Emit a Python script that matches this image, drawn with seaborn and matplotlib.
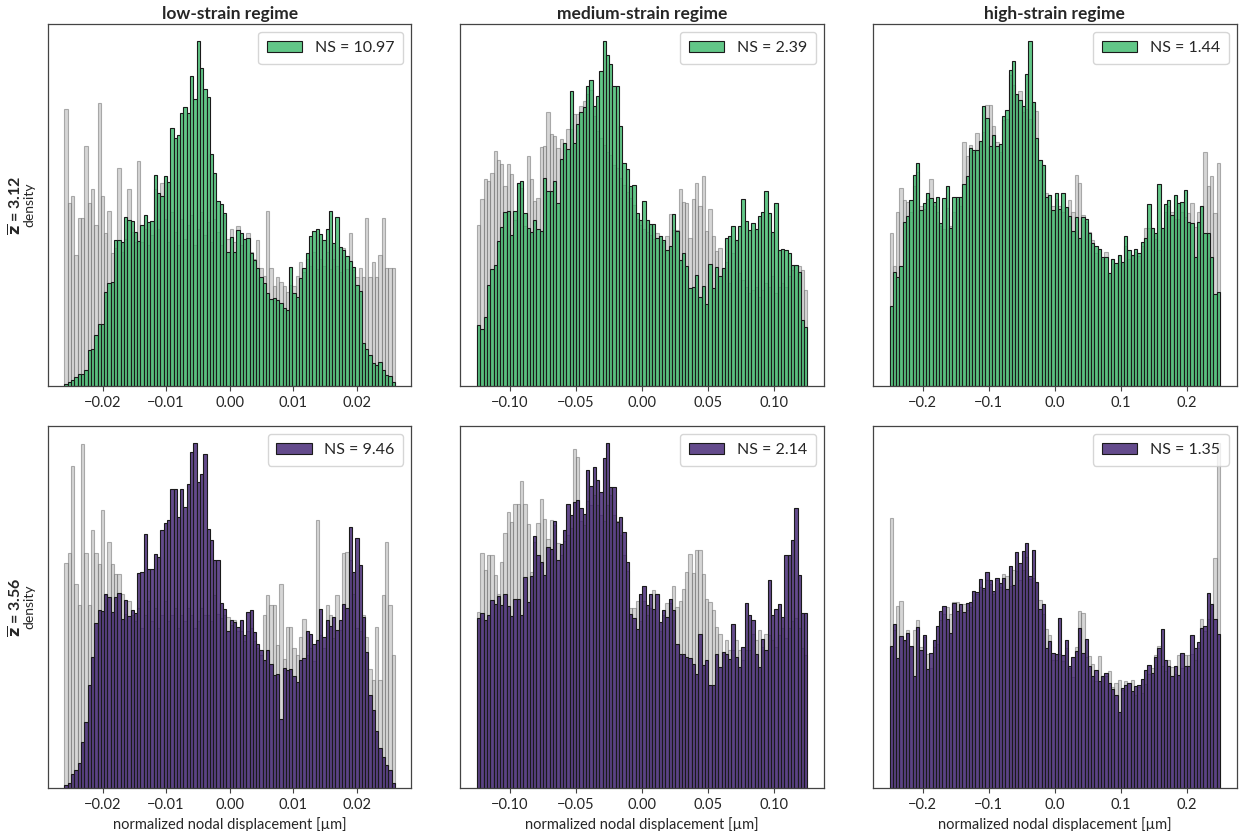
import numpy as np
import pandas as pd
import matplotlib
matplotlib.use("Agg")
import matplotlib.pyplot as plt
import seaborn as sns

# Column / row descriptors
regimes = ["low-strain regime", "medium-strain regime", "high-strain regime"]
half_ranges = [0.026, 0.125, 0.25]
z_means = ["3.12", "3.56"]
ns_top = [10.97, 2.39, 1.44]
ns_bottom = [9.46, 2.14, 1.35]
n_bins = 100

# Bin heights (density, arbitrary units), 100 bins per panel.
# "ref" = affine reference (grey), "obs" = simulated network (coloured)
top_low_obs = [
    7, 12, 17, 27, 35, 37, 47, 107, 112, 152,
    185, 185, 282, 307, 312, 435, 437, 429, 504, 497,
    492, 460, 432, 482, 512, 489, 494, 632, 577, 567,
    629, 610, 772, 742, 749, 817, 835, 815, 925, 859,
    1030, 949, 887, 865, 692, 637, 552, 545, 517, 402,
    445, 402, 465, 457, 439, 442, 397, 377, 352, 327,
    307, 277, 259, 262, 257, 247, 232, 227, 355, 279,
    267, 322, 352, 397, 447, 462, 469, 454, 437, 469,
    522, 427, 504, 414, 407, 389, 375, 357, 302, 285,
    129, 112, 92, 69, 64, 72, 49, 34, 29, 12]
top_low_ref = [
    827, 547, 567, 392, 502, 502, 717, 547, 589, 482,
    847, 567, 457, 522, 397, 412, 652, 400, 440, 589,
    460, 430, 672, 430, 470, 420, 450, 589, 470, 607,
    500, 430, 520, 460, 420, 500, 440, 480, 510, 420,
    470, 520, 450, 490, 430, 500, 460, 420, 510, 440,
    470, 430, 479, 420, 440, 457, 400, 380, 437, 352,
    330, 522, 352, 300, 327, 310, 300, 282, 302, 300,
    330, 370, 340, 380, 360, 400, 350, 380, 360, 400,
    350, 380, 360, 340, 412, 350, 457, 347, 327, 352,
    327, 502, 327, 372, 327, 392, 502, 352, 352, 352]

top_mid_obs = [
    182, 169, 207, 302, 349, 362, 432, 475, 519, 522,
    452, 522, 607, 612, 517, 472, 459, 497, 469, 462,
    622, 582, 582, 612, 547, 677, 727, 707, 882, 727,
    782, 817, 832, 897, 915, 837, 867, 939, 1029, 987,
    962, 897, 897, 777, 667, 647, 597, 599, 517, 497,
    552, 497, 485, 485, 442, 449, 435, 407, 419, 515,
    462, 377, 397, 359, 292, 297, 332, 265, 299, 245,
    365, 292, 355, 329, 352, 442, 447, 477, 435, 477,
    557, 492, 467, 487, 469, 507, 519, 582, 517, 459,
    545, 407, 409, 407, 397, 362, 362, 340, 197, 175]
top_mid_ref = [
    482, 557, 619, 612, 637, 702, 675, 662, 597, 662,
    632, 497, 607, 592, 477, 687, 619, 552, 562, 715,
    717, 817, 752, 747, 712, 737, 727, 767, 767, 812,
    812, 835, 852, 872, 885, 807, 760, 740, 720, 700,
    690, 660, 650, 620, 600, 580, 560, 540, 500, 480,
    470, 460, 450, 440, 457, 447, 430, 447, 515, 465,
    467, 589, 549, 547, 442, 557, 607, 537, 627, 462,
    529, 449, 402, 412, 352, 369, 307, 397, 437, 337,
    317, 297, 277, 287, 297, 267, 287, 307, 297, 327,
    277, 297, 307, 297, 327, 347, 357, 357, 347, 287]

top_high_obs = [
    239, 342, 327, 359, 492, 509, 557, 632, 667, 527,
    549, 577, 564, 552, 567, 489, 562, 599, 472, 567,
    567, 567, 604, 629, 712, 707, 707, 735, 839, 802,
    719, 752, 719, 725, 807, 827, 945, 972, 875, 857,
    839, 934, 1032, 850, 742, 677, 662, 567, 572, 527,
    579, 529, 579, 537, 509, 465, 505, 442, 507, 499,
    457, 429, 419, 409, 387, 387, 337, 379, 369, 392,
    372, 449, 407, 392, 409, 397, 432, 442, 544, 472,
    457, 604, 474, 544, 557, 512, 572, 549, 552, 587,
    492, 487, 387, 492, 539, 457, 457, 387, 275, 282]
top_high_ref = [
    457, 360, 522, 592, 557, 552, 520, 600, 640, 540,
    530, 560, 619, 540, 522, 480, 470, 532, 480, 520,
    560, 540, 732, 690, 722, 700, 759, 735, 760, 842,
    842, 780, 732, 700, 797, 800, 930, 902, 872, 882,
    820, 830, 800, 849, 822, 677, 662, 577, 572, 540,
    560, 540, 520, 532, 557, 522, 632, 607, 512, 492,
    462, 437, 397, 409, 380, 400, 337, 380, 369, 390,
    372, 420, 380, 390, 400, 390, 420, 472, 472, 472,
    440, 407, 474, 520, 540, 522, 500, 500, 522, 507,
    517, 547, 477, 520, 540, 702, 600, 629, 517, 667]

bot_low_obs = [
    8, 13, 41, 53, 73, 138, 198, 308, 393, 495,
    535, 531, 583, 573, 528, 573, 585, 508, 563, 515,
    535, 525, 645, 648, 761, 658, 658, 703, 693, 773,
    795, 805, 898, 898, 813, 898, 843, 913, 1008, 1035,
    918, 943, 1003, 778, 743, 683, 683, 555, 538, 471,
    505, 498, 483, 503, 458, 528, 533, 468, 431, 413,
    383, 413, 373, 338, 341, 208, 361, 353, 358, 335,
    318, 383, 391, 471, 463, 433, 445, 536, 453, 505,
    485, 513, 473, 503, 553, 541, 783, 648, 751, 668,
    513, 408, 278, 233, 170, 118, 93, 68, 53, 13]
bot_low_ref = [
    675, 705, 965, 611, 548, 1031, 705, 548, 773, 705,
    673, 835, 578, 738, 673, 643, 643, 583, 523, 560,
    520, 500, 540, 480, 520, 560, 500, 540, 480, 520,
    560, 500, 520, 540, 480, 520, 500, 540, 520, 480,
    500, 540, 520, 520, 500, 578, 523, 510, 520, 513,
    490, 505, 470, 470, 440, 470, 480, 440, 420, 400,
    518, 578, 548, 548, 430, 613, 388, 483, 483, 420,
    400, 453, 508, 400, 420, 380, 805, 460, 420, 548,
    518, 450, 578, 473, 705, 708, 683, 583, 480, 470,
    518, 453, 358, 323, 483, 323, 578, 738, 548, 400]

bot_mid_obs = [
    511, 525, 505, 518, 563, 553, 575, 548, 581, 545,
    515, 568, 568, 518, 633, 558, 635, 755, 698, 678,
    638, 723, 718, 800, 683, 733, 773, 851, 820, 858,
    863, 841, 823, 953, 905, 963, 923, 888, 991, 1035,
    903, 903, 798, 813, 768, 678, 521, 510, 478, 581,
    605, 548, 581, 538, 583, 498, 535, 513, 568, 533,
    431, 403, 403, 393, 391, 373, 341, 463, 368, 383,
    308, 308, 403, 363, 408, 403, 388, 491, 393, 363,
    423, 555, 518, 503, 403, 363, 448, 413, 625, 518,
    538, 551, 513, 698, 698, 745, 841, 638, 525, 525]
bot_mid_ref = [
    528, 705, 655, 698, 698, 638, 583, 678, 765, 828,
    798, 853, 853, 921, 853, 793, 648, 738, 795, 868,
    808, 748, 803, 788, 735, 700, 740, 760, 780, 1018,
    993, 800, 790, 860, 850, 880, 850, 820, 800, 850,
    880, 820, 800, 760, 700, 650, 540, 540, 560, 500,
    560, 520, 540, 595, 581, 470, 520, 555, 555, 605,
    543, 560, 598, 648, 703, 645, 713, 713, 643, 568,
    558, 535, 483, 463, 408, 443, 413, 413, 443, 413,
    383, 413, 413, 463, 443, 473, 423, 463, 458, 443,
    423, 460, 480, 450, 480, 500, 510, 480, 420, 400]

bot_high_obs = [
    425, 488, 388, 453, 441, 463, 423, 335, 481, 413,
    458, 355, 403, 443, 483, 528, 543, 505, 463, 551,
    528, 548, 525, 551, 555, 588, 585, 625, 598, 645,
    621, 588, 628, 613, 628, 593, 663, 605, 705, 671,
    708, 731, 633, 711, 615, 533, 548, 418, 438, 403,
    401, 508, 398, 443, 363, 391, 408, 478, 403, 445,
    363, 333, 351, 318, 333, 343, 313, 295, 278, 225,
    298, 308, 313, 288, 303, 308, 325, 353, 368, 343,
    391, 418, 473, 383, 363, 333, 363, 338, 403, 363,
    363, 458, 418, 435, 478, 483, 581, 548, 503, 460]
bot_high_ref = [
    805, 470, 543, 558, 440, 470, 420, 470, 501, 420,
    450, 400, 358, 420, 430, 500, 520, 540, 520, 555,
    555, 530, 548, 530, 540, 560, 580, 600, 590, 620,
    610, 580, 620, 600, 638, 633, 603, 650, 648, 620,
    650, 690, 625, 628, 613, 560, 520, 473, 458, 383,
    383, 400, 380, 418, 358, 330, 420, 528, 523, 390,
    393, 370, 320, 393, 333, 333, 348, 300, 313, 323,
    293, 318, 313, 323, 278, 300, 283, 310, 340, 358,
    398, 423, 363, 350, 383, 360, 340, 398, 358, 398,
    398, 400, 383, 418, 505, 468, 503, 548, 688, 1030]

obs_rows = [[top_low_obs, top_mid_obs, top_high_obs],
            [bot_low_obs, bot_mid_obs, bot_high_obs]]
ref_rows = [[top_low_ref, top_mid_ref, top_high_ref],
            [bot_low_ref, bot_mid_ref, bot_high_ref]]
ns_rows = [ns_top, ns_bottom]
row_colors = ["#3bb96a", "#3d1e6f"]

sns.set_style("ticks")
plt.rcParams["font.family"] = ["Lato", "DejaVu Sans"]
plt.rcParams["axes.edgecolor"] = "#444444"
plt.rcParams["axes.linewidth"] = 0.9

fig, axes = plt.subplots(2, 3, figsize=(12.39, 8.31), dpi=100)
fig.subplots_adjust(left=0.0387, right=0.998, top=0.971, bottom=0.052,
                    wspace=0.135, hspace=0.11)

for r in range(2):
    for c in range(3):
        ax = axes[r, c]
        lim = half_ranges[c]
        width = 2 * lim / n_bins
        centers = -lim + width * (np.arange(n_bins) + 0.5)
        df = pd.DataFrame({"disp": centers,
                           "ref": np.asarray(ref_rows[r][c], float),
                           "obs": np.asarray(obs_rows[r][c], float)})

        sns.histplot(data=df, x="disp", weights="ref", bins=n_bins,
                     binrange=(-lim, lim), ax=ax,
                     color="#a6a6a6", alpha=0.45,
                     edgecolor=(0.45, 0.45, 0.45, 0.55), linewidth=0.8)
        sns.histplot(data=df, x="disp", weights="obs", bins=n_bins,
                     binrange=(-lim, lim), ax=ax,
                     color=row_colors[r], alpha=0.8,
                     edgecolor="#1a1a1a", linewidth=0.8,
                     label=f"NS = {ns_rows[r][c]:.2f}")

        ax.set_yticks([])
        ax.tick_params(axis="x", labelsize=10.5, length=3.5, width=0.8,
                       color="#444444")
        ax.legend(loc="upper right", fontsize=11.5, handlelength=2.2,
                  borderpad=0.55, framealpha=0.8)

        if r == 0:
            ax.set_title(regimes[c], fontsize=12.5, fontweight="bold", pad=4)
            ax.set_xlabel("")
        else:
            ax.set_xlabel("normalized nodal displacement [µm]", fontsize=10.5)

        if c == 0:
            ax.set_ylabel("density", fontsize=10, labelpad=9)
            ax.text(-0.086, 0.5, r"$\mathbf{\overline{z}}$ = " + z_means[r],
                    transform=ax.transAxes, rotation=90, ha="center",
                    va="center", fontsize=11.5, fontweight="bold")
        else:
            ax.set_ylabel("")

fig.savefig("out.png", dpi=100)
